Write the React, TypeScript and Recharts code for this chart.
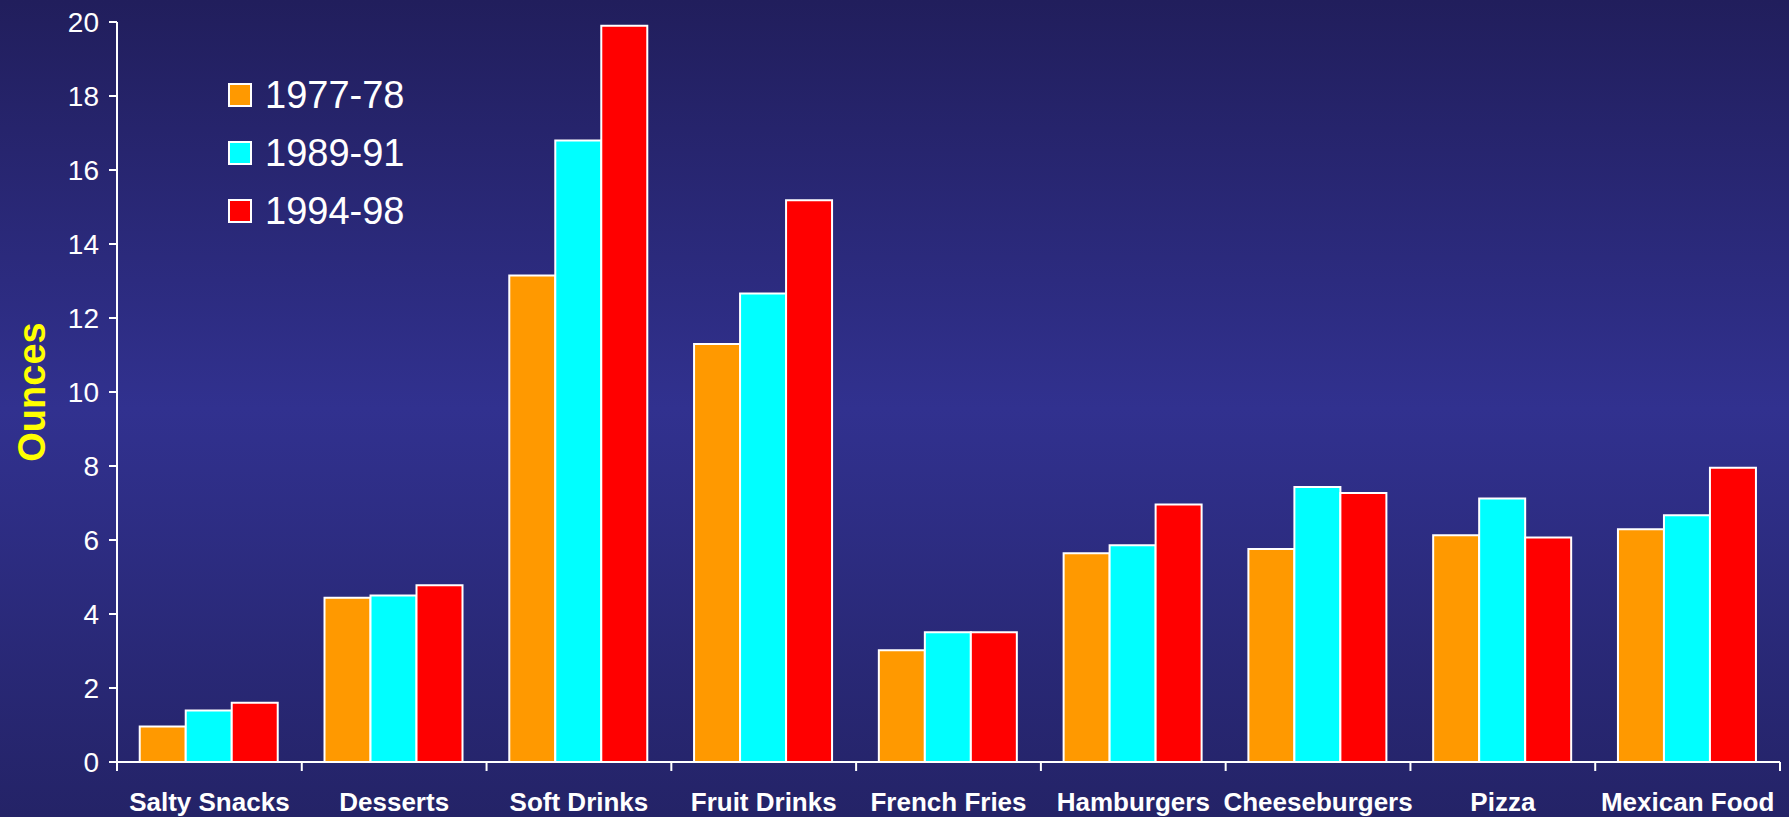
import React from "react";
import { BarChart, Bar, XAxis, YAxis, Legend } from "recharts";

const categories = [
  "Salty Snacks",
  "Desserts",
  "Soft Drinks",
  "Fruit Drinks",
  "French Fries",
  "Hamburgers",
  "Cheeseburgers",
  "Pizza",
  "Mexican Food",
];

const s1977 = [0.96, 4.44, 13.15, 11.3, 3.02, 5.64, 5.76, 6.13, 6.29];
const s1989 = [1.39, 4.5, 16.8, 12.66, 3.51, 5.86, 7.43, 7.12, 6.67];
const s1994 = [1.6, 4.78, 19.9, 15.18, 3.51, 6.96, 7.27, 6.07, 7.95];

const yTicks = [0, 2, 4, 6, 8, 10, 12, 14, 16, 18, 20];

const seriesInfo = [
  { key: "1977-78", color: "#ff9900" },
  { key: "1989-91", color: "#00ffff" },
  { key: "1994-98", color: "#ff0000" },
];

const data = categories.map((name, i) => ({
  name,
  "1977-78": s1977[i],
  "1989-91": s1989[i],
  "1994-98": s1994[i],
}));

const FONT = "Arial, 'Liberation Sans', sans-serif";

// label at band centre, tick marks on the band edges (like the original)
const CategoryTick = (props: any) => {
  const { x, y, payload, index } = props;
  const half = payload && payload.offset ? payload.offset : 92;
  const top = y - 8;
  return (
    <g>
      <line x1={x - half} y1={top} x2={x - half} y2={top + 9} stroke="#fff" strokeWidth={2} />
      {index === categories.length - 1 && (
        <line x1={x + half} y1={top} x2={x + half} y2={top + 9} stroke="#fff" strokeWidth={2} />
      )}
      <text x={x} y={y + 41} textAnchor="middle" fill="#fff" fontSize={26} fontWeight="bold" fontFamily={FONT}>
        {payload.value}
      </text>
    </g>
  );
};

const renderLegend = () => (
  <div style={{ fontFamily: FONT }}>
    {seriesInfo.map((s) => (
      <div key={s.key} style={{ display: "flex", alignItems: "center", height: 58 }}>
        <div
          style={{
            width: 20,
            height: 20,
            background: s.color,
            border: "2px solid #fff",
            marginRight: 13,
          }}
        />
        <span style={{ color: "#fff", fontSize: 38, lineHeight: "38px" }}>{s.key}</span>
      </div>
    ))}
  </div>
);

const App: React.FC = () => {
  return (
    <div
      style={{
        position: "absolute",
        top: 0,
        left: 0,
        width: 1789,
        height: 817,
        background: "linear-gradient(to bottom, #211e5c 0%, #31318f 50%, #242367 100%)",
      }}
    >
      <BarChart
        width={1789}
        height={817}
        data={data}
        margin={{ top: 22, right: 9, left: 0, bottom: 0 }}
        barCategoryGap="12.3%"
        barGap={0}
      >
        <XAxis
          dataKey="name"
          height={55}
          axisLine={{ stroke: "#fff", strokeWidth: 2 }}
          tickLine={false}
          tick={<CategoryTick />}
          interval={0}
        />
        <YAxis
          width={117}
          domain={[0, 20]}
          ticks={yTicks}
          interval={0}
          axisLine={{ stroke: "#fff", strokeWidth: 2 }}
          tickLine={{ stroke: "#fff", strokeWidth: 2 }}
          tickSize={8}
          tickMargin={10}
          tick={{ fill: "#fff", fontSize: 28, fontFamily: FONT }}
          label={{
            value: "Ounces",
            angle: -90,
            position: "center",
            dx: -27,
            fill: "#ffff00",
            fontSize: 38,
            fontWeight: "bold",
            fontFamily: FONT,
          }}
        />
        <Legend
          layout="vertical"
          align="center"
          verticalAlign="middle"
          content={renderLegend}
          wrapperStyle={{ left: 228, top: 66, width: 220, height: 180 }}
        />
        {seriesInfo.map((s) => (
          <Bar
            key={s.key}
            dataKey={s.key}
            fill={s.color}
            stroke="#fff"
            strokeWidth={2}
            isAnimationActive={false}
          />
        ))}
      </BarChart>
    </div>
  );
};

export default App;
